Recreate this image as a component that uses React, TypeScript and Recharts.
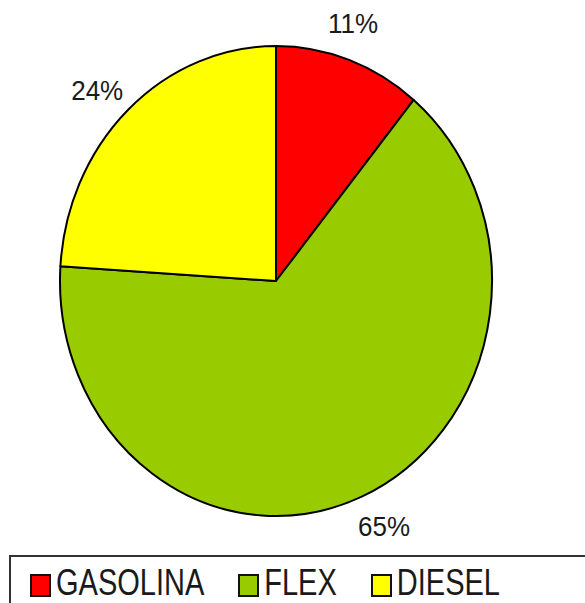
import React from 'react';
import { PieChart, Pie, Cell, Legend } from 'recharts';

const fuels = ['GASOLINA', 'FLEX', 'DIESEL'];
const shares = [11, 65, 24];
const fuelColors = ['#FF0000', '#99CC00', '#FFFF00'];

const data = fuels.map((name, i) => ({ name, value: shares[i] }));

const RX = 216;
const RY = 235;
const RAD = Math.PI / 180;

// ellipse-shaped sector (the reference pie is slightly taller than wide)
const EllipseSector = (props: any) => {
  const { cx, cy, startAngle, endAngle, fill } = props;
  const x1 = cx + RX * Math.cos(startAngle * RAD);
  const y1 = cy - RY * Math.sin(startAngle * RAD);
  const x2 = cx + RX * Math.cos(endAngle * RAD);
  const y2 = cy - RY * Math.sin(endAngle * RAD);
  const large = Math.abs(endAngle - startAngle) > 180 ? 1 : 0;
  const sweep = endAngle < startAngle ? 1 : 0;
  const d = `M${cx},${cy} L${x1},${y1} A${RX},${RY} 0 ${large} ${sweep} ${x2},${y2} Z`;
  return <path d={d} fill={fill} stroke="#000" strokeWidth={2} strokeLinejoin="round" />;
};

const renderLabel = (props: any) => {
  const { cx, cy, midAngle, percent } = props;
  const a = (midAngle + 2) * RAD;
  const x = cx + (RX + 36) * Math.cos(a);
  const y = cy - (RY + 36) * Math.sin(a);
  return (
    <text
      transform={`translate(${x},${y}) scale(1,1.09)`}
      x={0}
      y={0}
      textAnchor="middle"
      dominantBaseline="central"
      fontFamily="'Liberation Sans', Arial, sans-serif"
      fontSize={26}
      fill="#1a1a1a"
    >
      {`${Math.round(percent * 100)}%`}
    </text>
  );
};

const renderLegend = () => (
  <div
    style={{
      boxSizing: 'border-box',
      border: '2px solid #333',
      width: 590,
      height: 56,
      display: 'flex',
      alignItems: 'center',
      paddingLeft: 19,
      fontFamily: "'Liberation Sans', Arial, sans-serif",
    }}
  >
    {fuels.map((name, i) => (
      <div key={name} style={{ display: 'flex', alignItems: 'center', marginRight: 34 }}>
        <span
          style={{
            display: 'inline-block',
            boxSizing: 'border-box',
            width: 21,
            height: 23,
            background: fuelColors[i],
            border: '2px solid #111',
            marginRight: 5,
            marginTop: 4,
          }}
        />
        <span
          style={{
            display: 'inline-block',
            fontSize: 29,
            lineHeight: '29px',
            color: '#1a1a1a',
            transform: 'scale(1,1.25)',
          }}
        >
          {name}
        </span>
      </div>
    ))}
  </div>
);

export default function App() {
  return (
    <div style={{ position: 'absolute', left: 0, top: 0, width: 585, height: 603, overflow: 'hidden', background: '#fff' }}>
      <PieChart width={585} height={603} margin={{ top: 0, right: 0, bottom: 0, left: 0 }}>
        <Pie
          data={data}
          dataKey="value"
          nameKey="name"
          cx={276}
          cy={281}
          outerRadius={RX}
          startAngle={90}
          endAngle={-270}
          shape={EllipseSector}
          label={renderLabel}
          labelLine={false}
          isAnimationActive={false}
        >
          {data.map((d, i) => (
            <Cell key={d.name} fill={fuelColors[i]} />
          ))}
        </Pie>
        <Legend
          content={renderLegend}
          wrapperStyle={{ position: 'absolute', left: 9, top: 555, width: 590, height: 56 }}
        />
      </PieChart>
    </div>
  );
}
